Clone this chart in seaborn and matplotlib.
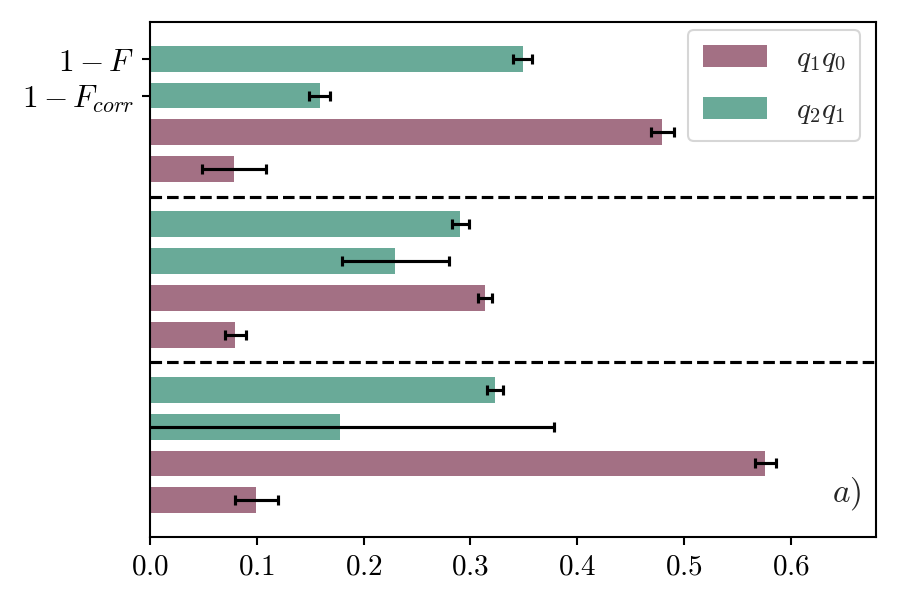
import numpy as np
import pandas as pd
import matplotlib
matplotlib.use("Agg")
import matplotlib.pyplot as plt
import seaborn as sns

# ---- data (top group first) ----
series_names = ["$q_2q_1$", "$q_2q_1$", "$q_1q_0$", "$q_1q_0$"]   # per row within a group
group1_vals = [0.349, 0.159, 0.480, 0.079]
group1_errs = [0.009, 0.010, 0.0105, 0.030]
group2_vals = [0.2905, 0.2296, 0.3137, 0.080]
group2_errs = [0.008, 0.050, 0.0064, 0.010]
group3_vals = [0.323, 0.178, 0.5764, 0.0997]
group3_errs = [0.0075, 0.200, 0.0095, 0.020]
ytick_labels = ["$1-F$", "$1-F_{corr}$"]
xtick_values = [0.0, 0.1, 0.2, 0.3, 0.4, 0.5, 0.6]
legend_order = ["$q_1q_0$", "$q_2q_1$"]
annotation = "$a)$"

colors = {"$q_1q_0$": "#a37084", "$q_2q_1$": "#69aa98"}

sns.set_style("ticks")
plt.rcParams["mathtext.fontset"] = "cm"
plt.rcParams["font.family"] = ["DejaVu Serif"]

groups = [(group1_vals, group1_errs), (group2_vals, group2_errs), (group3_vals, group3_errs)]
rows = []
for g, (vals, errs) in enumerate(groups):
    for i, (v, e) in enumerate(zip(vals, errs)):
        rows.append({"pos": g * 4.5 + i, "value": v, "err": e, "series": series_names[i]})
df = pd.DataFrame(rows)

fig = plt.figure(figsize=(6, 4), dpi=150)
ax = fig.add_axes([150 / 900, 1 - 537 / 600, (876 - 150) / 900, (537 - 22) / 600])

sns.barplot(data=df, x="value", y="pos", hue="series", hue_order=legend_order,
            orient="h", native_scale=True, dodge=False, palette=colors,
            saturation=1, width=0.7, linewidth=0, errorbar=None, ax=ax)

ax.errorbar(df["value"], df["pos"], xerr=df["err"], fmt="none", ecolor="black",
            elinewidth=1.5, capsize=2.2, capthick=1.5, zorder=3)

for g in range(1, len(groups)):
    ax.axhline(g * 4.5 - 0.75, color="black", ls="--", lw=1.5, zorder=3)

ax.set_xlim(0, 0.68)
ax.set_ylim(df["pos"].max() + 1.0, -1.0)
ax.set_xticks(xtick_values)
ax.set_xticklabels([f"${v:.1f}$" for v in xtick_values], fontsize=14)
ax.set_yticks([0, 1])
ax.set_yticklabels(ytick_labels, fontsize=15)
ax.set_xlabel("")
ax.set_ylabel("")
for s in ax.spines.values():
    s.set_visible(True)
    s.set_color("black")
    s.set_linewidth(1.0)
ax.tick_params(axis="both", colors="black", width=1.0, length=4)

handles, labels = ax.get_legend_handles_labels()
leg = ax.legend(handles, labels, loc="upper right", bbox_to_anchor=(0.978, 0.985),
                fontsize=14, handlelength=2.2, handleheight=0.75, labelspacing=0.75,
                borderpad=0.5, handletextpad=1.0, borderaxespad=0.0, frameon=True)
leg.set_zorder(10)

ax.text(0.96, 0.085, annotation, transform=ax.transAxes, fontsize=16,
        ha="center", va="center")

fig.savefig("out.png", dpi=150)
